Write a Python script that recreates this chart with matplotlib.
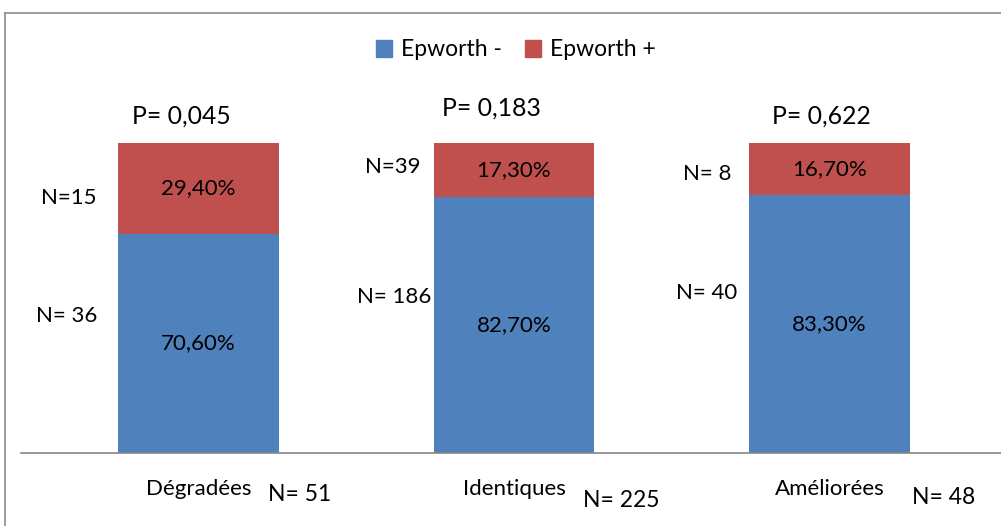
import matplotlib
matplotlib.use("Agg")
import matplotlib.pyplot as plt
from matplotlib.lines import Line2D
from matplotlib.patches import Patch

plt.rcParams["font.family"] = ["Lato", "DejaVu Sans"]

# Data
categories = ["Dégradées", "Identiques", "Améliorées"]
pct_neg = [70.6, 82.7, 83.3]          # Epworth -
pct_pos = [29.4, 17.3, 16.7]          # Epworth +
n_neg_labels = ["N= 36", "N= 186", "N= 40"]
n_pos_labels = ["N=15", "N=39", "N= 8"]
n_total_labels = ["N= 51", "N= 225", "N= 48"]
p_labels = ["P= 0,045", "P= 0,183", "P= 0,622"]
series_names = ["Epworth -", "Epworth +"]

BLUE = "#4F81BD"
RED = "#C0504D"

W, H = 1001, 526
fig = plt.figure(figsize=(W / 100, H / 100), dpi=100)

# Chart area frame (top and left edges visible)
fig.add_artist(Line2D([4.5 / W, 4.5 / W], [0, 1 - 13 / H], transform=fig.transFigure,
                      color="#8C8C8C", lw=1.2))
fig.add_artist(Line2D([4.5 / W, 1], [1 - 13 / H, 1 - 13 / H], transform=fig.transFigure,
                      color="#8C8C8C", lw=1.2))

ax = fig.add_axes([21 / W, 73 / H, 986 / W, 310 / H])
x = list(range(len(categories)))
bw = 0.51
ax.bar(x, pct_neg, width=bw, color=BLUE, label=series_names[0])
ax.bar(x, pct_pos, width=bw, bottom=pct_neg, color=RED, label=series_names[1])
ax.set_xlim(-0.5626, 2.5626)
ax.set_ylim(0, 100)

for s in ["top", "right", "left"]:
    ax.spines[s].set_visible(False)
ax.spines["bottom"].set_color("#868686")
ax.spines["bottom"].set_linewidth(1.2)
ax.set_yticks([])
ax.set_xticks(x)
ax.set_xticklabels(categories, fontsize=16)
ax.tick_params(axis="x", length=0, pad=19)

def fmt(v):
    return f"{v:.2f}".replace(".", ",") + "%"

# Percent labels centred in each segment
for i in x:
    ax.text(i, pct_neg[i] / 2, fmt(pct_neg[i]), ha="center", va="center", fontsize=16)
    ax.text(i, pct_neg[i] + pct_pos[i] / 2, fmt(pct_pos[i]), ha="center", va="center",
            fontsize=16)

# Count labels left of the bars
pos_xy = [(-0.322, 82.3), (0.705, 92.3), (1.688, 90.0)]
neg_xy = [(-0.322, 44.2), (0.737, 50.3), (1.707, 51.6)]
for i in x:
    ax.text(*pos_xy[i], n_pos_labels[i], ha="right", va="center", fontsize=16, clip_on=False)
    ax.text(*neg_xy[i], n_neg_labels[i], ha="right", va="center", fontsize=16, clip_on=False)

# P-values above the bars
p_xy = [(-0.055, 108.7), (0.93, 111.3), (1.976, 108.7)]
for i in x:
    ax.text(*p_xy[i], p_labels[i], ha="center", va="center", fontsize=17.8, clip_on=False)

# Group totals beside the category names
tot_xy = [(0.319, -13.5), (1.339, -15.2), (2.363, -14.2)]
for i in x:
    ax.text(*tot_xy[i], n_total_labels[i], ha="center", va="center", fontsize=16.5,
            clip_on=False)

handles = [Patch(color=BLUE), Patch(color=RED)]
fig.legend(handles, series_names, loc="center", bbox_to_anchor=(516 / W, 1 - 50 / H),
           ncol=2, frameon=False, fontsize=16.5, handlelength=0.7, handleheight=0.7,
           handletextpad=0.4, columnspacing=1.0)

fig.savefig("out.png", dpi=100)
